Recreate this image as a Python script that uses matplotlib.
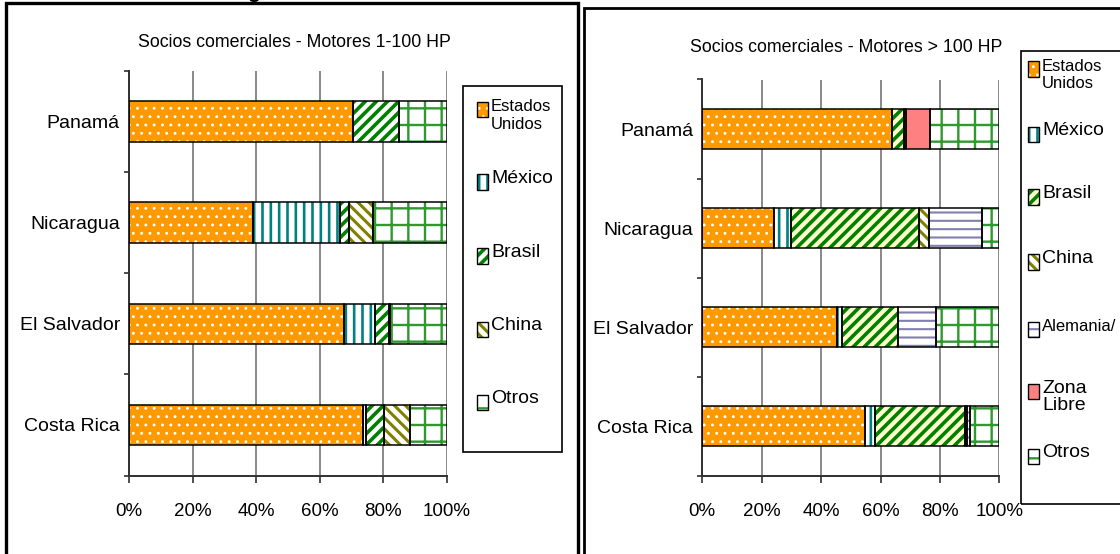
import matplotlib
matplotlib.use("Agg")
import matplotlib.pyplot as plt
from matplotlib.patches import Rectangle

W, H = 1120, 554

# datos: % de importaciones por socio comercial
paises = ["Costa Rica", "El Salvador", "Nicaragua", "Panamá"]
porcentajes = ["0%", "20%", "40%", "60%", "80%", "100%"]

# Motores 1-100 HP
eeuu_1 = [73.7, 67.6, 38.9, 70.4]
mexico_1 = [0.9, 9.8, 27.4, 0.0]
brasil_1 = [5.8, 4.3, 2.9, 14.7]
china_1 = [8.1, 0.4, 7.7, 0.0]
otros_1 = [11.5, 17.9, 23.1, 14.9]

# Motores > 100 HP
eeuu_2 = [54.7, 45.4, 24.3, 63.7]
mexico_2 = [3.5, 1.8, 5.6, 0.0]
brasil_2 = [30.1, 18.6, 43.1, 4.3]
china_2 = [0.7, 0.0, 3.3, 0.0]
alemania_2 = [1.1, 13.0, 17.9, 0.6]
zona_libre_2 = [0.0, 0.0, 0.0, 8.1]
otros_2 = [9.9, 21.2, 5.8, 23.3]

plt.rcParams["font.family"] = ["Liberation Sans", "DejaVu Sans"]

# relleno, trama, color de trama, grosor de trama (pt)
estilo = {
    "eeuu": ("#FF9900", "..", "white", 0.9),
    "mexico": ("white", "||", "#008080", 1.9),
    "brasil": ("white", "///", "#008000", 2.6),
    "brasil_am": ("#FFFFCC", "///", "#008000", 2.6),
    "china": ("white", "\\\\\\", "#808000", 2.2),
    "alemania": ("white", "--", "#8080B0", 1.5),
    "zona": ("#FF8080", "", "#FF8080", 0.0),
    "otros": ("white", "+", "#2E9A2E", 1.7),
}


def px(x, y):
    return x / W, 1 - y / H


def rect_px(x0, y0, x1, y1):
    return [x0 / W, 1 - y1 / H, (x1 - x0) / W, (y1 - y0) / H]


def hatched(patch, key):
    face, hatch, hcolor, hlw = estilo[key]
    patch.set_facecolor(face)
    patch.set_edgecolor(hcolor)
    patch.set_hatch(hatch)
    patch.set_linewidth(0)
    if hasattr(patch, "set_hatch_linewidth"):
        patch.set_hatch_linewidth(hlw)


def stacked(ax, series):
    left = [0.0] * len(paises)
    for valores, key in series:
        for i, v in enumerate(valores):
            if v <= 0:
                continue
            b = ax.barh(i, v, left=left[i], height=0.40, zorder=2)
            hatched(b.patches[0], key)
            ax.barh(i, v, left=left[i], height=0.40, fill=False,
                    edgecolor="black", linewidth=1.1, zorder=3)
        left = [l + v for l, v in zip(left, valores)]


def style_axes(ax):
    ax.set_xlim(0, 100)
    ax.set_ylim(-0.5, 3.5)
    ax.set_xticks(range(0, 101, 20))
    ax.set_xticklabels(porcentajes, fontsize=13.5)
    ax.set_yticks(range(len(paises)))
    ax.set_yticklabels(paises, fontsize=14)
    ax.set_yticks([-0.5, 0.5, 1.5, 2.5, 3.5], minor=True)
    ax.tick_params(axis="y", which="major", length=0, pad=6.5)
    ax.tick_params(axis="y", which="minor", length=3.6, width=1.2,
                   color="#303030", direction="out")
    ax.tick_params(axis="x", length=5, width=1.2, color="#303030",
                   direction="out", pad=15)
    ax.grid(axis="x", color="#808080", linewidth=1.3, zorder=0)
    ax.set_axisbelow(True)
    for s in ("top", "right"):
        ax.spines[s].set_visible(False)
    for s in ("left", "bottom"):
        ax.spines[s].set_color("#303030")
        ax.spines[s].set_linewidth(1.4)


def legend_box(fig, box, entries, sw_x, tx_x):
    fig.patches.append(Rectangle((box[0], box[1]), box[2], box[3],
                                 transform=fig.transFigure, fill=False,
                                 edgecolor="black", linewidth=1.2))
    for label, key, yc, size in entries:
        x0, y0, w, h = rect_px(sw_x, yc - 7.5, sw_x + 11, yc + 7.5)
        sw = Rectangle((x0, y0), w, h, transform=fig.transFigure)
        hatched(sw, key)
        fig.patches.append(sw)
        fig.patches.append(Rectangle((x0, y0), w, h, transform=fig.transFigure,
                                     fill=False, edgecolor="black", linewidth=1.0))
        tx, ty = px(tx_x, yc - 0.55 * size * 100 / 72 - 1)
        fig.text(tx, ty, label, ha="left", va="top", fontsize=size,
                 linespacing=1.2 if size < 13 else 1.0)


fig = plt.figure(figsize=(W / 100, H / 100), dpi=100)
fig.patch.set_facecolor("white")

# marcos de los dos paneles
fig.patches.append(Rectangle(px(6, 600), (578 - 6) / W, (600 - 3) / H,
                             transform=fig.transFigure, fill=False,
                             edgecolor="black", linewidth=2.4))
fig.patches.append(Rectangle(px(583.5, 600), 600 / W, (600 - 8) / H,
                             transform=fig.transFigure, fill=False,
                             edgecolor="black", linewidth=2.0))
fig.text(*px(254, -2), "g", ha="center", va="baseline", fontsize=15,
         fontweight="bold")

# panel izquierdo
ax1 = fig.add_axes(rect_px(129, 70.7, 446.7, 475.6))
stacked(ax1, [(eeuu_1, "eeuu"), (mexico_1, "mexico"), (brasil_1, "brasil"),
              (china_1, "china"), (otros_1, "otros")])
style_axes(ax1)
fig.text(*px(294.5, 42.4), "Socios comerciales - Motores 1-100 HP",
         ha="center", va="center", fontsize=12.8)
legend_box(fig, rect_px(463.5, 85.5, 561.6, 452.3), [
    ("Estados\nUnidos", "eeuu", 109.5, 12),
    ("México", "mexico", 182, 14),
    ("Brasil", "brasil", 256, 14),
    ("China", "china", 329, 14),
    ("Otros", "otros", 402, 14),
], 477, 491)

# panel derecho
ax2 = fig.add_axes(rect_px(702.2, 79.5, 999.4, 475.6))
stacked(ax2, [(eeuu_2, "eeuu"), (mexico_2, "mexico"), (brasil_2, "brasil_am"),
              (china_2, "china"), (alemania_2, "alemania"),
              (zona_libre_2, "zona"), (otros_2, "otros")])
style_axes(ax2)
fig.text(*px(846.4, 47.7), "Socios comerciales - Motores > 100 HP",
         ha="center", va="center", fontsize=12.8)
legend_box(fig, rect_px(1020.8, 50.5, 1200, 503.5), [
    ("Estados\nUnidos", "eeuu", 69, 12),
    ("México", "mexico", 134, 14),
    ("Brasil", "brasil_am", 197, 14),
    ("China", "china", 262, 14),
    ("Alemania/", "alemania", 329, 12),
    ("Zona\nLibre", "zona", 391.5, 14),
    ("Otros", "otros", 456, 14),
], 1027.6, 1042)

fig.savefig("out.png", dpi=100, facecolor="white")
